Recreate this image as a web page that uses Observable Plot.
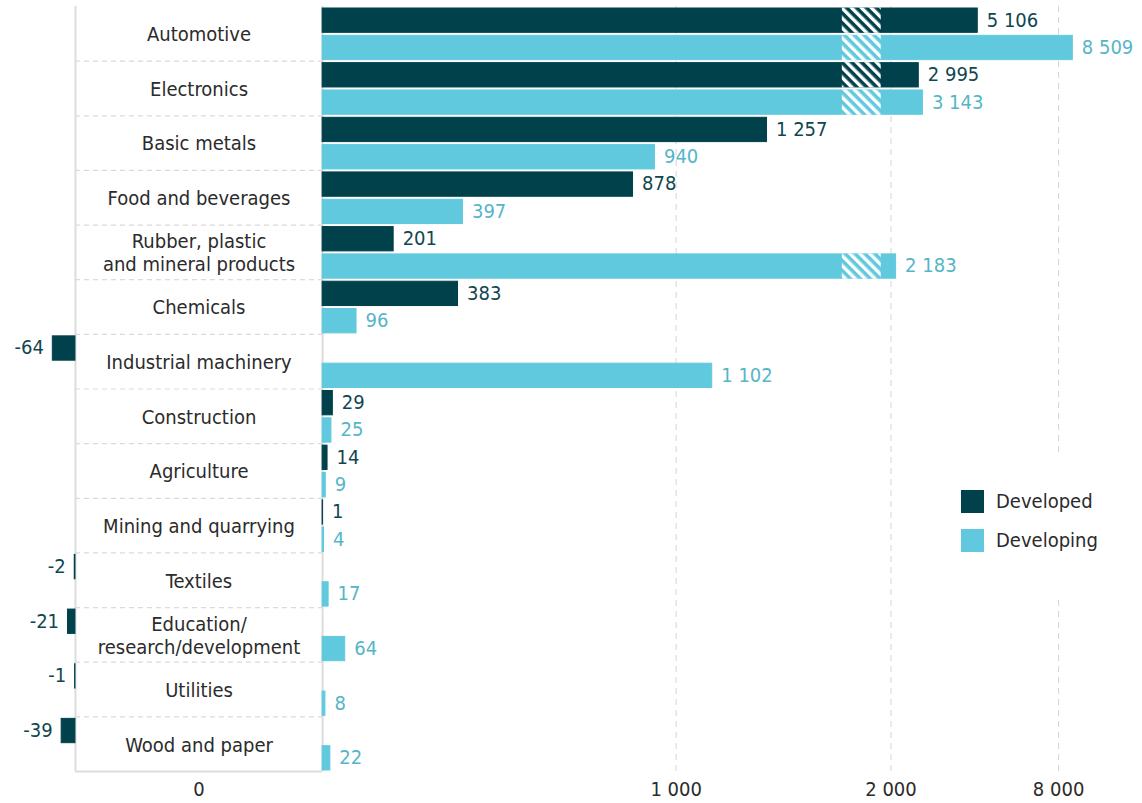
<!DOCTYPE html>
<html><head><meta charset="utf-8">
<script src="https://cdn.jsdelivr.net/npm/d3@7"></script>
<script src="https://cdn.jsdelivr.net/npm/@observablehq/plot@0.6"></script>
<style>
body{margin:0;background:#fff;}
#wrap{position:relative;width:1142px;height:803px;font-family:"Liberation Sans Narrow","DejaVu Sans Condensed",sans-serif;}
#legend{position:absolute;left:950px;top:455px;width:160px;height:140px;background:#fff;}
.item{position:absolute;left:11px;display:flex;align-items:center;font-size:20px;color:#2b2b2b;}
.sw{width:23px;height:23px;margin-right:12px;}
</style></head>
<body>
<svg style="position:absolute;width:0;height:0"><defs>
<pattern id="hatch" patternUnits="userSpaceOnUse" width="7" height="7" patternTransform="rotate(-45)"><rect x="0" y="0" width="3.4" height="7" fill="white"/></pattern>
</defs></svg>
<div id="wrap"><div id="chart"></div><div id="legend"></div></div>
<script>
const categories = ["Automotive","Electronics","Basic metals","Food and beverages","Rubber, plastic\nand mineral products","Chemicals","Industrial machinery","Construction","Agriculture","Mining and quarrying","Textiles","Education/\nresearch/development","Utilities","Wood and paper"];
const developed  = [5106, 2995, 1257, 878, 201, 383, -64, 29, 14, 1, -2, -21, -1, -39];
const developing = [8509, 3143, 940, 397, 2183, 96, 1102, 25, 9, 4, 17, 64, 8, 22];
const seriesNames = ["Developed","Developing"];
const tickValues = [0, 1000, 2000, 8000];
const tickLabels = ["0","1 000","2 000","8 000"];
const barColors = ["#01414b","#61c9de"];
const labelColors = ["#0f4650","#55b5c8"];

// broken axis: negative region | label panel | linear part | hatched break | compressed part
const GAP = 699, BREAK_LO = 1470, BREAK_HI = 1650, HATCH = 110, R = 0.079;
const f = v => v < 0 ? v : v <= BREAK_LO ? GAP + v : GAP + BREAK_LO + HATCH + (v - BREAK_HI) * R;
const tickPos = v => v === 0 ? GAP / 2 : f(v);
const labelByPos = new Map(tickValues.map((v, i) => [tickPos(v), tickLabels[i]]));

const rows = [];
categories.forEach((c, i) => {
  [developed[i], developing[i]].forEach((v, j) => {
    rows.push({cat: c, series: seriesNames[j], key: c + "|" + seriesNames[j], value: v,
      base: v < 0 ? 0 : GAP, end: f(v), broken: v > BREAK_LO,
      hs: GAP + BREAK_LO, he: GAP + BREAK_LO + HATCH});
  });
});
const keys = rows.map(d => d.key);
const W = 1142, H = 803, MT = 6, MB = 32;
const step = (H - MT - MB) / keys.length;
const fmt = d3.formatLocale({decimal: ".", thousands: " ", grouping: [3], currency: ["", ""], minus: "-"}).format(",");
const FONT = '"Liberation Sans Narrow","DejaVu Sans Condensed",sans-serif';

const chart = Plot.plot({
  width: W, height: H, marginTop: MT, marginBottom: MB, marginLeft: 0, marginRight: 0,
  style: {fontFamily: FONT, fontSize: "20px", color: "#2b2b2b", background: "white", overflow: "visible"},
  x: {domain: [-212, 3018], ticks: tickValues.map(tickPos), tickFormat: d => labelByPos.get(d), tickSize: 0, tickPadding: 10, label: null},
  y: {domain: keys, padding: 0, round: false, axis: null},
  color: {domain: seriesNames, range: barColors},
  marks: [
    Plot.ruleX(tickValues.filter(v => v > 0).map(f), {stroke: "#d4d4d4", strokeDasharray: "6,5", strokeWidth: 1}),
    Plot.ruleY(categories.slice(0, -1).map(c => c + "|Developing"), {x1: 0, x2: GAP, dy: step / 2, stroke: "#dadada", strokeDasharray: "5,4", strokeWidth: 1.2}),
    Plot.ruleY([categories[categories.length - 1] + "|Developing"], {x1: 0, x2: GAP, dy: step / 2, stroke: "#dcdcdc", strokeWidth: 2}),
    Plot.ruleX([0, GAP], {stroke: "#dcdcdc", strokeWidth: 2}),
    Plot.barX(rows, {x1: "base", x2: "end", y: "key", fill: "series", stroke: "series", strokeWidth: 1, insetTop: 2, insetBottom: 1}),
    Plot.barX(rows.filter(d => d.broken), {x1: "hs", x2: "he", y: "key", fill: "url(#hatch)", insetTop: 1.5, insetBottom: 0.5}),
    Plot.text(rows.filter(d => d.series === "Developed" && d.value >= 0), {x: "end", y: "key", text: d => fmt(d.value), textAnchor: "start", dx: 9, fill: labelColors[0]}),
    Plot.text(rows.filter(d => d.series === "Developed" && d.value < 0), {x: "end", y: "key", text: d => fmt(d.value), textAnchor: "end", dx: -9, fill: labelColors[0]}),
    Plot.text(rows.filter(d => d.series === "Developing" && d.value >= 0), {x: "end", y: "key", text: d => fmt(d.value), textAnchor: "start", dx: 9, fill: labelColors[1]}),
    Plot.text(rows.filter(d => d.series === "Developing" && d.value < 0), {x: "end", y: "key", text: d => fmt(d.value), textAnchor: "end", dx: -9, fill: labelColors[1]}),
    Plot.text(categories.map(c => ({cat: c, key: c + "|Developed"})), {x: GAP / 2, y: "key", text: "cat", dy: step / 2, fill: "#2b2b2b", lineHeight: 1.15})
  ]
});
document.getElementById("chart").appendChild(chart);

const legend = document.getElementById("legend");
seriesNames.forEach((s, i) => {
  const it = document.createElement("div");
  it.className = "item";
  it.style.top = (35 + i * 39 - 1) + "px";
  it.innerHTML = `<div class="sw" style="background:${barColors[i]}"></div><span>${s}</span>`;
  legend.appendChild(it);
});
</script>
</body></html>
